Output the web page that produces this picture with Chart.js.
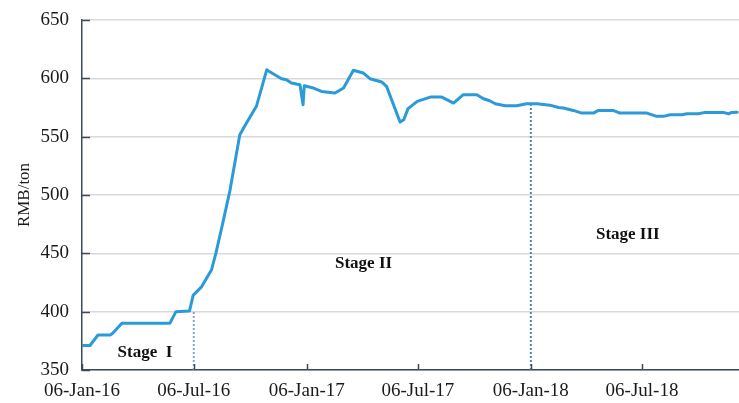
<!DOCTYPE html>
<html><head><meta charset="utf-8">
<script src="https://cdn.jsdelivr.net/npm/chart.js@4.4.1/dist/chart.umd.min.js"></script>
<style>html,body{margin:0;padding:0;background:#fff;}#wrap{width:739px;height:403px;position:relative;}</style>
</head><body><div id="wrap"><canvas id="c"></canvas></div>
<script>
const dates = ['2016-01-06','2016-01-19','2016-02-01','2016-02-21','2016-02-25','2016-03-11','2016-05-28','2016-06-07','2016-06-29','2016-07-05',
'2016-07-19','2016-08-04','2016-08-11','2016-08-21','2016-09-03','2016-09-19','2016-09-28','2016-10-16','2016-11-02','2016-11-04',
'2016-11-26','2016-12-04','2016-12-12','2016-12-26','2016-12-31','2017-01-02','2017-01-17','2017-01-30','2017-02-21','2017-03-07',
'2017-03-23','2017-04-08','2017-04-19','2017-05-08','2017-05-16','2017-06-07','2017-06-13','2017-06-20','2017-07-05','2017-07-26',
'2017-08-14','2017-08-22','2017-09-02','2017-09-18','2017-10-10','2017-10-21','2017-10-31','2017-11-09','2017-11-25','2017-12-14',
'2017-12-30','2018-01-16','2018-02-06','2018-02-20','2018-02-28','2018-03-16','2018-03-30','2018-04-18','2018-04-26','2018-05-20',
'2018-05-31','2018-07-14','2018-07-30','2018-08-10','2018-08-21','2018-09-09','2018-09-17','2018-10-06','2018-10-17','2018-11-15',
'2018-11-24','2018-11-29','2018-12-08'];
const prices = [371,371,380,380,381.5,390,390,400,400.5,414,
421.5,436,450,473,504,551.6,560,576,607.4,606.5,
599.7,598.8,596,594.5,577.4,593.7,591.7,588.8,587.4,591.7,
606.9,604.6,599.7,596.9,593.1,562.5,564.5,574,580.2,583.9,
583.9,581.7,578.8,586,586,582.5,580.8,578.2,576.5,576.5,
578.2,578.2,577,575,574.5,572.5,570.2,570.2,572.5,572.5,
570.2,570.2,567.4,567.4,568.8,568.8,569.6,569.6,570.8,570.8,
569.6,570.8,571];
const tickDates = ['2016-01-06','2016-07-06','2017-01-06','2017-07-06','2018-01-06','2018-07-06'];
const tickLabels = ['06-Jan-16','06-Jul-16','06-Jan-17','06-Jul-17','06-Jan-18','06-Jul-18'];
const yTicks = [350,400,450,500,550,600,650];
const stageNames = ['Stage  I','Stage II','Stage III'];
const boundaryDates = ['2016-07-06','2018-01-06'];
const boundaryTops = [400,577];

const DAY = 86400000;
const base = Date.UTC(2016,0,6);
const toDay = s => (Date.parse(s + 'T00:00:00Z') - base) / DAY;
const xMax = toDay('2018-12-11');
const tickDays = tickDates.map(toDay);

const serif = '"Liberation Serif","Times New Roman",serif';

const innerTicks = {
  id: 'innerTicks',
  afterDraw(chart) {
    const ctx = chart.ctx, a = chart.chartArea;
    const xs = chart.scales.x, ys = chart.scales.y;
    ctx.save();
    ctx.strokeStyle = '#3b4a5c';
    ctx.lineWidth = 1.5;
    yTicks.forEach(v => {
      const y = Math.round(ys.getPixelForValue(v)) + 0.5;
      ctx.beginPath(); ctx.moveTo(a.left, y); ctx.lineTo(a.left + 8, y); ctx.stroke();
    });
    tickDays.forEach(d => {
      const x = Math.round(xs.getPixelForValue(d)) + 0.5;
      ctx.beginPath(); ctx.moveTo(x, a.bottom); ctx.lineTo(x, a.bottom - 6); ctx.stroke();
    });
    // stage labels
    const pos = [['2016-03-04',365],['2017-02-21',441],['2018-04-22',466]];
    ctx.fillStyle = '#111';
    ctx.font = 'bold 17px ' + serif;
    ctx.textAlign = 'left';
    ctx.textBaseline = 'middle';
    stageNames.forEach((t, i) => {
      ctx.fillText(t, xs.getPixelForValue(toDay(pos[i][0])), ys.getPixelForValue(pos[i][1]));
    });
    ctx.restore();
  }
};

const boundarySets = boundaryDates.map((d, i) => ({
  data: [{x: toDay(d), y: 350}, {x: toDay(d), y: boundaryTops[i]}],
  borderColor: i === 0 ? '#7fa3dc' : '#4a86b4',
  borderWidth: 2,
  borderDash: [2, 2],
  pointRadius: 0,
  fill: false
}));

new Chart(document.getElementById('c'), {
  type: 'line',
  data: {
    datasets: [{
      data: dates.map((d, i) => ({x: toDay(d), y: prices[i]})),
      borderColor: '#2b9ad8',
      borderWidth: 3,
      pointRadius: 0,
      tension: 0,
      borderJoinStyle: 'round',
      borderCapStyle: 'round',
      fill: false
    }, ...boundarySets]
  },
  options: {
    responsive: true,
    maintainAspectRatio: false,
    animation: false,
    devicePixelRatio: 1,
    layout: {padding: {top: 20, right: 0, left: 0, bottom: 0}},
    plugins: {legend: {display: false}, tooltip: {enabled: false}},
    scales: {
      x: {
        type: 'linear',
        min: 0,
        max: xMax,
        afterBuildTicks: s => { s.ticks = tickDays.map(v => ({value: v})); },
        afterFit: s => { s.height = 33; s.paddingLeft = 0; s.paddingRight = 0; },
        ticks: {
          autoSkip: false, maxRotation: 0, padding: 10,
          callback: (v) => { const i = tickDays.indexOf(v); return i >= 0 ? tickLabels[i] : ''; },
          font: {family: serif, size: 19}, color: '#1a1a1a'
        },
        grid: {display: false, drawTicks: false},
        border: {display: true, color: '#3b4a5c', width: 1.5}
      },
      y: {
        min: 350, max: 650,
        afterBuildTicks: s => { s.ticks = yTicks.map(v => ({value: v})); },
        afterFit: s => { s.width = 82; s.paddingTop = 0; s.paddingBottom = 0; },
        ticks: {padding: 13, font: {family: serif, size: 19}, color: '#1a1a1a'},
        grid: {color: '#d9d9d9', lineWidth: 1.5, drawTicks: false},
        border: {display: true, color: '#3b4a5c', width: 1.5},
        title: {display: true, text: 'RMB/ton', font: {family: serif, size: 17}, color: '#1a1a1a', padding: {top: 14, bottom: 0}}
      }
    }
  },
  plugins: [innerTicks]
});
</script></body></html>
